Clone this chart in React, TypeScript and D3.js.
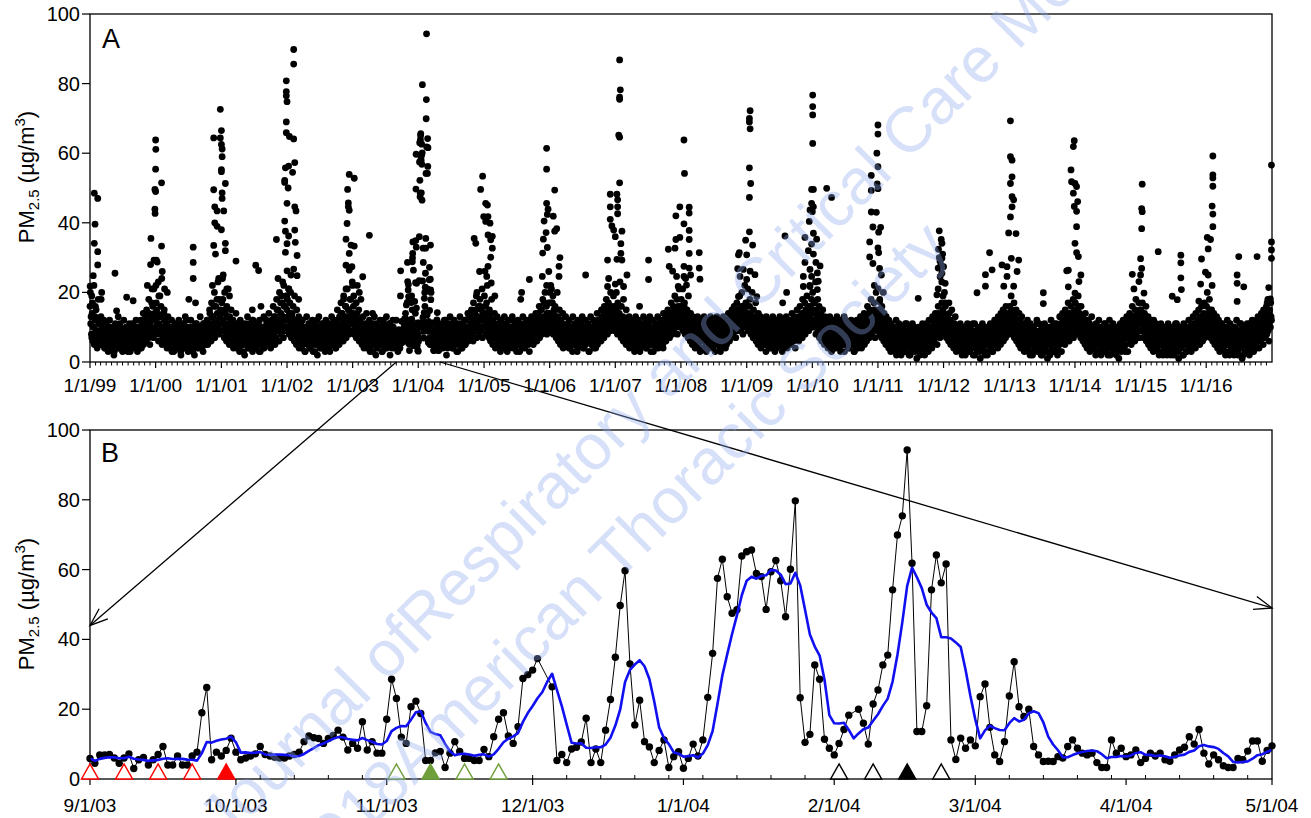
import React from "react";
import * as d3 from "d3";

// ================= DATA =================
// Panel B: daily PM2.5 (µg/m3) from 9/1/03 through 5/1/04 (null = missing day)
const dailyStartISO = "2003-09-01";
const dailyPM: (number | null)[] = [
  5.9, 4.5, 6.9, 6.9, 7, 6, 4.5, 6, 7.2, 3,
  5.5, 6.2, 4, 5.5, 7, 9.3, 4, 4, 6.6, 4,
  4, 6.6, 7.7, 19, 26.2, 5.5, 7.7, 6.6, 8.2, 11.7,
  7.7, 5.5, 6, 6.6, 7.2, 9.3, 7, 6.6, 6.2, 6,
  6, 6.6, 7, 7.7, 10.7, 12.3, 11.8, 11.6, 10.2, 11.6,
  12.5, 14, 12, 8.3, 10.2, 8.8, 16.4, 8.3, 10.7, 7.4,
  7.4, 17.1, 28.6, 23.1, 12, 10.2, 20.7, 22.3, 18.8, 5.3,
  5.3, 7.5, 7.9, 3.3, 7.4, 10.7, 7.9, 5.9, 5.9, 5.3,
  5.3, 8.5, 6.4, 12.1, 17.1, 19, 12.3, 10.2, 15, 28.8,
  29.9, 31.2, 34.5, null, null, 26.4, 5.3, 7, 4.7, 8.6,
  9.1, 10.6, 17.4, 4.7, 8.6, 4.7, 14, 22.8, 34.9, 49.7,
  59.7, 33, 15.5, 22.6, 10.7, 9.2, 4.7, 8.2, 11.2, 3.3,
  6.4, 7.8, 3.1, 5.9, 10, 6.6, 11.2, 23.4, 36, 57.5,
  63, 52.2, 47.5, 48.5, 63.9, 65.1, 65.6, 58.9, 58, 48.6,
  59.4, 62.6, 56.8, 46.5, 60.1, 79.7, 23.3, 10.5, 12.8, 32.7,
  28.6, 11.4, 8.8, 6.9, 10.2, 14.2, 18.3, null, 20, 16,
  10, 21.5, 25.5, 32.7, 35.5, 54.2, 69.9, 75.4, 94.3, 61.8,
  13.6, 13.6, 21, 54.2, 64.2, 56.2, 61.6, 11.2, 5.6, 11.7,
  8.8, 11.2, 9.5, 23.6, 27.2, 14.8, 6.9, 5, 10.7, 23.8,
  33.6, 20.7, 17.9, 20, 9.3, 6.9, 5, 5.1, 5, 6.4,
  6, 9.3, 11.2, 8.8, 7.4, 6.9, 7.4, 4.7, 3.3, 3.3,
  11.2, 7.4, 8.8, 6.4, 6.9, 8.3, 4.7, 5.9, 7.4, 6.6,
  7.4, 5.5, 5.1, 6.9, 8.3, 9.1, 12.1, 10, 14.2, 7.4,
  4.3, 6.9, 5.5, 3.8, 3.3, 3.3, 5.9, 5.5, 8, 10.9,
  10.9, 5.1, 8.2, 9.5,
];

// Event markers on panel B (days after 9/1/03)
const redOpenDays = [0, 7, 14, 21];
const redFilledDays = [28];
const greenOpenDays = [63, 77, 84];
const greenFilledDays = [70];
const blackOpenDays = [154, 161, 175];
const blackFilledDays = [168];

// Panel A: background daily levels, two interleaved sample sets per year (spread evenly through the year)
const base1999 = "16 11 8 14 6 10 5 13 7 9 4 12 8 6 11 9 5 8 7 10 6 4 9 7 5 8 10 6 4 7 9 5 8 6 3 10 7 5 9 6 4 8 11 5 7 6 9 4 8 5 7 10 6 3 8 9 5 7 4 6 11 8 5 9 6 4 7 10 5 8 6 12 4 9 7 5 10 8 13 6 9 11 7 14 5 10 8 12 16 7 9 13";
const base2000 = "12 17 9 14 6 11 19 8 13 5 10 7 15 9 6 11 4 8 10 5 7 9 6 3 8 10 5 7 4 9 6 8 11 5 7 3 9 6 10 4 8 5 7 12 6 9 4 8 5 10 7 6 3 9 5 8 11 6 4 7 9 5 10 6 8 4 7 11 5 9 6 8 12 5 10 7 14 9 6 13 8 11 16 7 12 9 18 10 14 8 11 15";
const base2001 = "14 9 18 11 7 15 10 6 13 8 11 5 9 7 12 6 10 4 8 7 5 9 11 6 8 4 7 10 5 9 6 3 8 7 11 5 9 6 4 10 7 8 5 12 6 9 4 7 10 5 8 6 11 3 7 9 5 8 6 10 4 7 9 12 5 8 6 10 7 4 9 11 6 8 13 5 10 7 15 9 12 6 11 17 8 13 10 7 16 12 9 19";
const base2002 = "15 10 13 8 17 11 7 14 9 12 6 10 8 5 11 9 7 4 10 6 8 12 5 7 9 3 8 6 10 5 7 11 4 9 6 8 5 10 7 3 9 6 12 5 8 7 4 10 6 9 5 11 7 8 4 6 10 5 9 7 3 8 11 6 9 5 7 10 4 8 12 6 9 5 11 7 14 8 10 6 13 9 16 7 11 10 15 8 12 18 9 13";
const base2003 = "11 16 8 13 10 7 14 9 12 6 10 8 11 5 9 7 4 10 6 8 5 11 7 9 4 6 10 8 3 7 5 9 6 11 4 8 7 10 5 6 9 3 8 12 5 7 10 6 4 9 8 5 11 6 7 4 9 10 5 8 6 12 7 9 5 10 8 6 11 7 9 13 6 10 8 12 7 14 9 11 6 15 10 8 13 9 11 7 16 10 12 8";
const base2004 = "12 9 15 11 8 14 10 7 13 9 11 6 10 8 5 9 7 11 4 8 6 10 5 9 7 3 8 6 11 5 7 9 4 10 6 8 5 7 12 6 9 4 8 10 5 7 6 11 4 9 5 8 7 10 3 6 9 5 11 7 8 4 10 6 9 12 5 8 7 10 6 13 9 7 11 8 14 6 10 12 9 15 7 11 13 8 10 16 9 12 7 14";
const base2005 = "13 10 16 8 12 9 14 7 11 6 10 8 5 9 11 7 4 8 10 6 9 5 7 3 10 8 6 4 9 7 11 5 8 6 10 4 7 9 5 12 6 8 10 4 7 9 5 6 11 8 3 7 10 6 9 5 8 4 11 7 6 10 5 9 8 12 6 7 10 5 9 13 8 11 6 10 14 9 7 12 15 8 11 10 17 9 13 11 8 14 12 10";
const base2006 = "14 11 9 17 12 8 15 10 13 7 11 9 6 10 8 5 12 7 9 4 8 10 6 7 9 5 11 4 8 6 10 7 3 9 5 8 11 6 7 4 10 9 5 8 6 12 7 4 9 10 5 8 6 7 11 3 9 6 8 5 10 7 4 9 11 6 8 5 12 7 10 9 6 13 8 11 7 14 10 9 12 8 15 11 13 9 16 10 12 14 11 9";
const base2007 = "12 15 10 8 13 11 16 9 7 12 10 6 9 8 11 5 7 10 6 9 4 8 7 11 5 6 9 3 10 8 5 7 12 6 9 4 8 10 5 7 6 11 9 4 8 5 10 7 6 12 3 9 8 5 10 7 6 4 11 8 9 5 7 10 6 8 12 4 9 7 11 6 10 8 13 9 7 12 10 14 8 11 9 15 12 10 13 8 16 11 14 10";
const base2008 = "13 10 15 9 12 17 8 11 14 10 7 12 9 6 10 8 5 11 7 9 4 8 6 10 5 7 9 3 8 11 6 7 10 4 9 5 8 6 12 7 4 9 10 5 8 6 11 7 3 9 8 5 10 6 7 4 11 9 5 8 6 10 7 12 5 9 8 11 6 10 7 13 9 8 12 10 14 7 11 9 15 12 10 13 9 16 11 8 14 12 10 17";
const base2009 = "11 14 9 12 16 10 8 13 11 7 10 9 12 6 8 10 5 9 7 11 4 8 6 9 5 10 7 3 8 6 11 5 9 7 4 10 8 6 5 12 7 9 4 8 10 6 5 7 11 9 3 8 6 10 5 7 9 4 12 8 6 10 5 9 7 11 6 8 4 10 9 7 12 6 11 8 13 10 7 14 9 12 8 15 11 10 16 9 13 12 10 18";
const base2010 = "15 12 10 17 11 8 14 13 9 11 7 12 10 6 9 8 11 5 7 10 6 9 4 8 7 5 10 3 6 9 8 4 11 7 5 9 6 10 4 8 7 12 5 6 9 3 8 10 7 5 11 6 4 9 8 7 5 10 6 3 9 8 4 7 11 5 10 6 8 4 9 12 7 5 10 8 6 13 9 11 7 14 10 8 12 9 15 11 7 13 10 9";
const base2011 = "12 9 14 8 11 7 13 10 6 9 12 5 8 7 10 4 6 9 3 8 5 7 10 4 6 8 2 9 5 7 3 10 6 4 8 5 9 7 3 6 11 4 8 5 7 2 9 6 4 8 10 5 3 7 6 9 4 8 5 2 7 10 4 6 9 3 8 5 11 7 4 9 6 10 5 8 12 7 9 6 13 8 10 5 11 14 9 7 12 8 10 15";
const base2012 = "11 8 13 9 7 12 10 6 14 8 5 10 7 9 4 11 6 8 3 7 9 5 6 10 4 8 2 7 5 9 3 6 10 4 8 5 7 3 9 6 4 11 5 8 2 7 6 9 4 5 8 3 10 6 7 4 9 5 2 8 6 7 3 10 5 8 4 9 6 3 7 11 5 8 10 6 4 9 12 7 5 10 8 13 6 11 9 7 14 10 8 12";
const base2013 = "13 10 8 15 11 9 12 7 14 10 6 11 8 5 9 12 4 7 10 6 8 3 9 5 7 11 4 6 8 2 10 5 7 3 9 6 4 8 5 11 7 3 6 9 4 8 2 5 10 7 4 6 9 3 8 5 7 2 10 6 4 9 5 8 3 7 11 6 4 9 5 10 8 3 7 12 6 9 5 11 8 7 13 10 6 9 12 8 14 11 7 10";
const base2014 = "14 11 9 13 8 16 10 12 7 11 9 6 10 8 5 12 7 4 9 6 11 3 8 5 7 10 4 6 9 2 8 5 7 3 10 6 4 8 5 9 3 7 11 4 6 8 2 9 5 7 4 10 6 3 8 5 9 7 2 6 10 4 8 5 7 3 9 6 11 4 8 5 10 7 3 9 12 6 8 5 11 7 13 9 6 10 8 12 14 9 7 11";
const base2015 = "12 9 14 10 7 11 8 13 6 10 9 5 8 11 4 7 9 6 3 8 10 5 7 4 9 6 2 8 5 10 3 7 6 4 9 5 8 2 7 10 4 6 3 9 5 8 6 2 7 11 4 5 9 3 8 6 4 7 10 5 2 8 6 9 3 7 5 10 4 8 6 3 9 7 11 5 8 4 10 6 12 7 9 5 11 8 13 6 10 9 7 12";
const base2016 = "13 10 8 12 9 15 7 11 10 6 9 12 5 8 7 10 4 6 9 3 8 5 11 7 4 9 6 2 8 5 7 10 3 6 9 4 8 5 7 2 10 6 4 8 3 9 5 7 11 4 6 8 2 9 5 10 3 7 6 4 8 11 5 9 3 7 6 10 4 8 5 12 7 9 4 11 6 8 13 10 5 9 12 7 14 8 11 9 6 15 10 13";

const alt1999 = "20 13 7 17 10 22 8 12 15 6 9 18 11 5 8 13 7 10 6 12 4 9 11 5 8 3 7 12 6 9 4 10 7 2 8 11 5 6 9 13 4 7 10 5 8 3 6 12 9 4 7 10 5 8 6 11 3 9 7 4 10 6 8 5 12 7 3 9 6 10 4 8 11 7 14 9 6 12 8 15 10 7 18 11 13 9 17 12 8 21 14 10";
const alt2000 = "22 15 11 8 19 13 9 16 24 10 7 14 12 6 9 11 5 13 8 4 10 7 12 6 9 3 8 11 5 7 10 4 12 6 8 2 9 5 11 7 4 13 8 6 10 3 7 9 5 12 4 8 10 6 2 9 7 11 5 8 4 10 13 6 7 9 3 11 8 5 10 6 12 9 7 15 11 8 17 10 13 9 20 12 16 10 14 23 11 18 13 9";
const alt2001 = "17 24 12 9 20 14 8 16 11 21 7 13 10 15 6 9 12 5 11 8 14 4 10 7 9 3 12 6 8 11 5 9 2 7 10 6 13 4 8 11 5 7 9 3 12 6 10 8 4 11 7 5 9 12 3 8 6 10 4 13 7 9 5 11 8 6 14 10 5 9 12 7 16 8 11 13 9 18 10 15 12 20 9 14 11 17 13 22 10 16 12 19";
const alt2002 = "18 12 21 14 10 25 13 9 16 11 19 8 12 15 7 10 13 6 9 11 4 12 8 6 10 3 9 13 7 5 11 8 4 10 6 12 3 9 7 11 5 8 2 10 13 6 9 4 7 11 5 8 10 3 12 6 9 7 4 11 8 5 13 10 6 9 12 7 4 11 15 8 10 13 9 17 11 14 8 19 12 10 16 13 21 11 15 9 18 14 12 23";
const alt2003 = "14 19 11 9 17 13 22 10 15 8 12 18 9 6 13 10 5 11 8 14 4 9 7 12 3 10 6 8 11 5 13 7 2 9 4 10 8 6 12 5 9 3 11 7 10 4 8 13 6 9 5 11 2 7 10 6 12 8 4 9 7 11 5 14 8 10 6 13 9 12 7 16 10 11 14 8 17 12 10 15 19 11 13 9 20 12 16 10 14 18 11 15";
const alt2004 = "16 12 20 10 14 18 11 9 15 13 7 12 10 16 6 11 8 13 5 10 7 12 4 9 11 6 8 3 10 13 7 5 9 11 4 8 12 6 10 2 9 7 11 5 13 8 6 10 4 9 12 7 5 11 8 3 10 6 13 9 7 4 11 8 10 5 12 9 6 14 10 8 13 11 15 9 12 17 10 14 11 19 13 9 16 12 18 10 15 21 12 14";
const alt2005 = "19 14 11 17 22 12 9 15 13 10 18 8 12 11 14 7 10 9 13 6 11 8 4 12 9 7 10 5 13 8 6 11 3 9 12 7 5 10 8 13 4 9 6 11 7 3 10 12 5 8 9 6 11 4 13 7 10 8 5 12 9 6 11 3 10 8 13 7 9 12 6 11 14 8 10 13 9 16 12 11 15 10 18 13 12 20 11 16 14 10 17 13";
const alt2006 = "17 22 13 10 19 14 11 16 12 9 20 13 10 15 8 12 7 11 14 6 10 9 13 5 8 11 7 12 4 10 9 6 13 8 5 11 7 10 3 12 9 6 8 11 5 13 7 10 4 9 12 8 6 11 7 3 10 13 5 9 8 12 6 11 4 10 14 7 9 12 8 11 15 10 13 9 16 12 11 18 14 10 17 13 15 20 12 14 11 19 16 13";
const alt2007 = "15 20 12 17 10 14 23 11 16 9 13 18 8 12 10 15 7 11 9 13 6 10 12 5 9 8 11 4 13 7 10 6 12 9 3 11 8 10 5 13 7 9 12 4 10 6 11 8 13 5 9 7 12 3 10 8 11 6 9 13 4 10 7 12 8 11 5 14 9 10 13 7 12 15 9 11 14 10 17 12 13 16 11 19 14 12 18 13 15 21 12 16";
const alt2008 = "18 14 21 12 16 11 24 13 15 10 19 12 9 14 11 8 13 10 7 12 9 6 11 13 5 10 8 12 4 9 11 7 13 6 10 3 12 8 9 11 5 13 7 10 4 12 9 6 11 8 13 5 10 7 12 3 9 11 6 13 8 10 4 12 9 7 14 11 10 13 8 15 12 11 16 10 14 13 17 11 15 12 19 14 13 20 12 16 15 22 13 11";
const alt2009 = "16 21 13 11 18 14 12 20 10 15 13 9 17 11 12 8 14 10 7 13 9 11 6 12 8 10 5 13 9 7 11 4 12 10 8 6 13 9 11 3 10 12 7 9 5 11 13 8 10 6 12 4 9 11 7 13 8 10 5 12 9 11 6 14 10 8 13 12 7 11 15 9 13 10 16 12 11 14 18 13 10 17 12 15 19 11 14 13 22 16 12 15";
const alt2010 = "20 14 17 12 23 15 11 18 13 16 10 14 12 9 15 11 8 13 10 7 12 9 11 6 13 8 10 5 12 9 7 11 4 10 13 8 6 12 9 3 11 7 10 5 13 8 12 6 9 11 4 10 8 7 12 5 9 11 3 10 8 6 12 9 4 11 7 13 10 8 12 6 14 11 9 13 10 16 12 11 15 13 18 10 14 12 17 11 15 20 13 12";
const alt2011 = "15 11 18 13 9 16 12 10 14 8 11 13 7 10 6 12 9 5 11 8 4 10 7 3 9 12 6 8 4 11 5 9 2 7 10 6 3 8 11 5 9 4 7 2 10 6 8 3 11 5 7 9 4 6 1 8 10 5 3 9 7 4 11 6 8 2 10 5 7 9 3 12 8 6 10 4 13 9 11 7 14 10 8 12 16 9 11 13 10 17 12 14";
const alt2012 = "14 10 16 12 9 13 11 17 8 12 10 15 7 9 11 6 13 8 5 10 7 4 9 11 6 3 8 10 5 7 2 9 6 11 4 8 3 10 7 5 9 2 6 11 4 8 7 3 10 5 9 1 7 6 11 4 8 3 9 5 10 2 7 8 6 11 4 9 3 10 7 12 5 8 11 6 13 9 10 7 14 11 8 15 12 10 13 16 9 12 14 11";
const alt2013 = "16 12 19 10 14 11 17 13 9 15 12 8 11 14 7 10 6 13 9 5 11 8 4 10 7 12 3 9 6 11 5 8 2 10 7 4 9 6 12 3 8 11 5 7 2 10 9 4 6 11 3 8 7 1 10 5 9 6 12 4 8 3 11 7 9 5 10 2 8 6 13 9 11 7 14 10 12 8 15 11 13 9 17 12 14 10 16 13 11 18 12 15";
const alt2014 = "17 13 10 15 19 12 14 11 16 9 13 12 8 11 14 7 10 9 12 6 11 5 9 13 7 4 10 8 6 11 3 9 7 12 5 8 2 10 6 9 4 11 7 3 8 10 5 6 12 2 9 7 4 11 8 5 10 3 7 9 6 1 8 11 4 10 6 12 5 9 3 8 13 7 11 10 14 8 12 9 16 11 13 10 15 18 12 14 11 17 13 15";
const alt2015 = "15 11 17 13 9 14 12 16 10 8 13 11 7 12 9 6 10 8 12 5 9 11 4 7 10 3 8 6 11 5 9 2 7 10 4 8 6 3 11 7 9 5 2 8 10 6 4 9 7 3 11 5 8 1 10 6 9 4 7 2 11 8 5 10 3 9 6 12 4 8 7 11 5 13 9 10 6 14 11 8 12 15 10 13 9 16 12 11 14 17 10 13";
const alt2016 = "16 12 14 11 18 13 10 15 9 12 14 8 11 10 13 7 9 12 6 10 5 11 8 4 9 7 3 10 6 12 5 8 2 11 7 9 4 6 10 3 8 5 12 7 2 9 6 4 11 8 1 10 5 7 3 9 6 11 4 8 2 10 7 5 12 9 3 8 6 11 4 10 13 7 9 12 8 14 10 11 15 9 13 12 16 10 18 11 14 13 17 12";

// Panel A: high-pollution days, [days after Jan 1 of the year, µg/m3]
const peaks1999 = [[24,48.5],[43,47],[28,39.6],[24,34.1],[43,31.7],[43,27.9],[18,24.8],[1,21.8],[65,20],[62,18],[10,19],[30,16],[139,25.5],[148,14.7],[204,18.6],[240,17.6]];
const peaks2000 = [[0,63.8],[1,61.1],[0,55.4],[-4,49.6],[0,49],[33,51.5],[-4,43.9],[-3,42.7],[-26,35.5],[33,33.3],[-9,29.3],[4,29.3],[-28,28],[9,28.7],[37,26],[-46,22],[-20,21],[15,23],[50,21],[65,20],[209,33],[209,28.6],[209,24],[185,18],[222,17]];
const peaks2001 = [[-6,72.6],[0,66.5],[-6,64.4],[-43,64.4],[0,62.5],[4,61.2],[4,59],[0,55.3],[0,54.7],[22,51.3],[-43,49.5],[4,48.6],[4,47],[-37,44.6],[-24,43.4],[13,43.4],[-37,40],[-24,39],[0,38],[-43,33.5],[-33,31],[22,34.1],[22,32],[81,29],[191,27.8],[207,26.3],[-50,22],[-15,24],[10,25],[30,21],[45,19],[172,15],[220,16]];
const peaks2002 = [[37,89.8],[37,85.6],[-4,80.8],[-4,77.7],[-4,76.5],[0,74.8],[-4,69],[-4,65.9],[13,64.8],[37,64.1],[43,57.3],[-9,55.8],[9,56.3],[31,54.5],[-13,52.2],[-13,51.6],[6,50],[0,45.6],[43,44.6],[50,43.4],[-13,40.5],[-9,37.6],[43,37.9],[9,36.2],[-59,35.2],[0,34],[46,34.4],[-9,31.5],[56,30.6],[0,26.2],[37,26.7],[56,24.8],[-50,24],[-24,23],[9,21],[-30,19],[20,20],[65,18]];
const peaks2003 = [[-19,53.9],[9,52.8],[-28,49.6],[-24,45.7],[-24,44.6],[-19,43.6],[-31,39.8],[-37,35.3],[-9,33.6],[-19,31.2],[9,33.3],[-37,27.8],[-4,27.4],[-19,26.4],[56,24.5],[93,36.4],[111,14],[-37,21],[0,22],[37,20],[-50,18],[20,17]];
const peaks2005 = [[-8,53.4],[-19,49.6],[9,45.6],[19,45.1],[-2,41.8],[22,41.8],[9,40.4],[33,39.9],[22,36.5],[46,36.1],[37,35.1],[46,32.7],[37,30.1],[22,27.5],[-55,35.5],[-46,34.1],[-25,26],[5,26.1],[15,24.6],[40,22.7],[-40,20],[60,19]];
const peaks2006 = [[-17,61.4],[-17,55.4],[28,49.4],[-17,45.6],[-9,43.9],[-31,40.5],[20,41.9],[-13,42.4],[39,38.3],[28,37.6],[-20,37.2],[-35,35.3],[-13,32.9],[-39,31.3],[57,30],[-41,24.6],[52,24.6],[52,27.5],[-17,22],[15,17],[-113,23.7],[-156,20],[-161,18],[200,25],[0,20],[-5,26],[10,21]];
const peaks2007 = [[24,86.8],[28,78.2],[24,76.1],[24,75.5],[19,65.2],[24,64.6],[24,51.5],[-28,48.2],[9,48.2],[13,46.6],[13,44.6],[-28,44.6],[13,42.6],[-28,41],[-19,39.1],[-9,37.9],[37,37.6],[0,36],[31,34],[31,31.2],[-43,29.3],[9,29.5],[37,29.3],[65,25],[-37,24],[0,22.4],[-43,21.7],[46,21.7],[185,29.3],[185,23.7],[135,16]];
const peaks2008 = [[17,63.8],[20,54.2],[-6,44.6],[46,44.5],[46,42.8],[-28,42],[17,39.7],[46,37.8],[-28,35.2],[-6,35.8],[46,35.2],[-70,32.4],[-33,32.7],[102,31.4],[46,31.2],[-65,27.5],[-46,26.1],[17,27.5],[46,27],[102,27],[-24,24.6],[17,24.6],[54,25],[106,23.8],[-15,21.7],[31,22.1]];
const peaks2009 = [[19,72.2],[15,70],[15,69],[19,67],[15,55.8],[22,51.3],[15,47.3],[15,37.4],[-6,35],[33,33.6],[-41,31.4],[0,30.8],[-46,30.8],[-50,26.8],[-19,26.6],[19,26.1],[46,25.1],[-37,24.6],[0,23.7],[-46,18.8],[56,18.8],[213,36.2]];
const peaks2010 = [[2,76.7],[2,73.4],[2,71],[2,62.8],[6,49.6],[-4,49.6],[80,49.9],[107,47.3],[-4,45.6],[6,44.6],[-13,43.7],[0,43.2],[-17,40.4],[6,37],[-41,35.8],[24,35.3],[-4,33.9],[-22,32],[6,31],[-41,28.6],[20,28.6],[43,27.6],[-13,26.6],[28,25.6],[-50,24.6],[-4,24.6],[33,23.2],[-50,21.7],[-13,21.7],[28,20.8],[-143,20],[-165,17]];
const peaks2011 = [[0,68.1],[0,65.5],[0,56.1],[-4,51.2],[0,49.8],[-9,43],[15,38.7],[4,37.3],[0,32.8],[4,31.4],[9,26.9],[19,25],[0,21.1],[9,17.3],[19,14.9],[-6,60],[-37,53.6],[-37,49.3],[-37,43.1],[-28,38.8],[-46,34.5],[-46,30.2],[-28,28.3],[-20,22],[30,20]];
const peaks2012 = [[-24,37.7],[-13,35.2],[-9,34.1],[-28,32.4],[-9,29.8],[0,27.4],[-9,25.5],[-19,24.5],[9,22.6],[-37,19.3],[-141,18.3],[-30,27],[-20,29],[-5,31],[5,20],[-24,30],[-15,28],[-10,23],[-3,19],[8,17],[-30,21]];
const peaks2013 = [[6,69.3],[6,59],[15,58],[15,53.2],[6,51.3],[15,47.5],[24,46.6],[15,44.6],[6,41.7],[-4,37.1],[37,36.9],[11,29.8],[52,29.3],[43,26],[-110,31.4],[-41,27.9],[-13,27.4],[-13,24.6],[-133,25.1],[-96,26.5],[-180,19.9],[-133,21.8],[-31,21.8],[24,21.8]];
const peaks2014 = [[-4,63.6],[-9,61.9],[-22,55.2],[-19,51.8],[0,51.3],[9,50.4],[-9,48.5],[15,46.1],[-4,44.7],[9,43.3],[9,38.9],[0,34.1],[9,31.4],[19,30.3],[-37,26.4],[-46,26.2],[33,25],[22,23.1],[-37,21.6],[0,19.8],[-176,19.9],[-176,16.8]];
const peaks2015 = [[9,51.1],[6,44.1],[9,43.2],[6,38.3],[0,29.7],[6,26.9],[0,25],[-9,23.1],[-46,25.2],[-37,21],[19,19.8],[98,31.7],[224,30.7],[224,28.5],[224,24.2],[227,20.8],[176,18.9],[204,17.9]];
const peaks2016 = [[37,59.2],[37,53.8],[37,52.9],[37,50.5],[33,44.8],[37,42.5],[37,38.9],[6,35.8],[24,35.2],[11,32.5],[-26,29.6],[-4,25.8],[11,25],[-31,22.4],[33,22],[6,20],[-41,17.5],[181,30.3],[172,25],[172,22.6],[172,17.4],[209,21.6],[283,30.3],[363,56.6],[363,34.5],[363,32.2],[363,29.8],[348,21.4],[357,18.1],[339,17]];

const yearBaselines: [number, string, string][] = [
  [1999, base1999, alt1999], [2000, base2000, alt2000], [2001, base2001, alt2001], [2002, base2002, alt2002],
  [2003, base2003, alt2003], [2004, base2004, alt2004], [2005, base2005, alt2005], [2006, base2006, alt2006],
  [2007, base2007, alt2007], [2008, base2008, alt2008], [2009, base2009, alt2009], [2010, base2010, alt2010],
  [2011, base2011, alt2011], [2012, base2012, alt2012], [2013, base2013, alt2013], [2014, base2014, alt2014],
  [2015, base2015, alt2015], [2016, base2016, alt2016],
];
const yearPeaks: [number, number[][]][] = [
  [1999, peaks1999], [2000, peaks2000], [2001, peaks2001], [2002, peaks2002], [2003, peaks2003],
  [2005, peaks2005], [2006, peaks2006], [2007, peaks2007], [2008, peaks2008], [2009, peaks2009],
  [2010, peaks2010], [2011, peaks2011], [2012, peaks2012], [2013, peaks2013], [2014, peaks2014],
  [2015, peaks2015], [2016, peaks2016],
];

const yTicks = [0, 20, 40, 60, 80, 100];
const watermarkLine1a = "American Journal of ";
const watermarkLine1b = "Respiratory and Critical Care Medicine";
const watermarkLine2a = "Copyright © 2018 ";
const watermarkLine2b = "American Thoracic Society";

// ================= LAYOUT =================
const W = 1311, H = 818;
const L = 90, R = 1272;
const A_TOP = 14, A_BOT = 362;
const B_TOP = 430, B_BOT = 779;
const FONT = "'Liberation Sans', Arial, Helvetica, sans-serif";
const DAY = 86400000;
const utc = (y: number, m: number, d: number) => new Date(Date.UTC(y, m, d));

function Arrow({ x1, y1, x2, y2 }: { x1: number; y1: number; x2: number; y2: number }) {
  const ang = Math.atan2(y2 - y1, x2 - x1);
  const len = 19, spread = 0.36;
  const w1 = [x2 - len * Math.cos(ang - spread), y2 - len * Math.sin(ang - spread)];
  const w2 = [x2 - len * Math.cos(ang + spread), y2 - len * Math.sin(ang + spread)];
  return (
    <g stroke="#000" strokeWidth={1.3} fill="none">
      <line x1={x1} y1={y1} x2={x2} y2={y2} />
      <polyline points={`${w1[0]},${w1[1]} ${x2},${y2} ${w2[0]},${w2[1]}`} />
    </g>
  );
}

function YTitle({ x, y }: { x: number; y: number }) {
  return (
    <text transform={`translate(${x},${y}) rotate(-90)`} textAnchor="middle" fontFamily={FONT} fontSize={22} fill="#000">
      PM<tspan fontSize={15} dy={5}>2.5</tspan>
      <tspan dy={-5}> (µg/m</tspan>
      <tspan fontSize={15} dy={-9}>3</tspan>
      <tspan dy={9}>)</tspan>
    </text>
  );
}

export default function App() {
  const bStart = new Date(dailyStartISO + "T00:00:00Z");
  const bEnd = utc(2004, 4, 1);

  const xA = d3.scaleUtc().domain([utc(1999, 0, 1), utc(2017, 0, 1)]).range([L, R]);
  const yA = d3.scaleLinear().domain([0, 100]).range([A_BOT, A_TOP]);
  const xB = d3.scaleUtc().domain([bStart, bEnd]).range([L, R]);
  const yB = d3.scaleLinear().domain([0, 100]).range([B_BOT, B_TOP]);

  const daily = dailyPM.map((v, i) => ({ date: d3.utcDay.offset(bStart, i), v }));
  const dailyValid = daily.filter((d) => d.v != null) as { date: Date; v: number }[];
  const movingAvg = daily.map((d, i) => {
    const win = dailyPM.slice(Math.max(0, i - 6), i + 1).filter((v) => v != null) as number[];
    return { date: d.date, v: d3.mean(win) as number };
  });

  const aPoints: { date: Date; v: number }[] = [];
  const inB = (date: Date) => date >= bStart && date < bEnd;
  yearBaselines.forEach(([yr, s1, s2]) => {
    const start = utc(yr, 0, 1).getTime();
    [s1, s2].forEach((s, k) => {
      const vals = s.trim().split(/\s+/).map(Number);
      const n = vals.length;
      vals.forEach((v, i) => {
        const date = new Date(start + Math.round(((i + k * 0.5) * 365) / n) * DAY);
        if (inB(date)) return;
        aPoints.push({ date, v });
      });
    });
  });
  yearPeaks.forEach(([yr, arr]) => {
    arr.forEach(([off, v]) => {
      const date = d3.utcDay.offset(utc(yr, 0, 1), off);
      if (inB(date)) return;
      aPoints.push({ date, v });
    });
  });
  dailyValid.forEach((d) => aPoints.push(d));

  const fmt = d3.utcFormat("%-m/%-d/%y");
  const yearTicks = d3.utcYear.range(utc(1999, 0, 1), utc(2017, 0, 1));
  const monthTicksA = d3.utcMonth.range(utc(1999, 0, 1), utc(2017, 0, 1)).filter((d) => d.getUTCMonth() !== 0);
  const monthTicksB = d3.utcMonth.range(bStart, d3.utcDay.offset(bEnd, 1));
  const weekTicksB = d3.utcDay.range(d3.utcDay.offset(bStart, 7), bEnd, 7);

  const lineB = d3.line<{ date: Date; v: number }>().x((d) => xB(d.date)).y((d) => yB(d.v));

  const tri = (cx: number, base: number) => {
    const w = 8.5, h = 15;
    return `M${cx - w},${base} L${cx},${base - h} L${cx + w},${base} Z`;
  };
  const markerDate = (d: number) => d3.utcDay.offset(bStart, d);

  const angle = -45;

  return (
    <svg width={W} height={H} style={{ position: "absolute", left: 0, top: 0, background: "#fff" }} fontFamily={FONT}>
      <rect x={0} y={0} width={W} height={H} fill="#fff" />

      {/* ---------- Panel A ---------- */}
      <g>
        {aPoints.map((d, i) => (
          <circle key={i} cx={xA(d.date)} cy={yA(d.v)} r={3.4} fill="#000" />
        ))}
        <rect x={L} y={A_TOP} width={R - L} height={A_BOT - A_TOP} fill="none" stroke="#000" strokeWidth={1.3} />
        {yTicks.map((t) => (
          <g key={t}>
            <line x1={L - 8} x2={L} y1={yA(t)} y2={yA(t)} stroke="#000" strokeWidth={1.2} />
            <text x={L - 10} y={yA(t)} dy="0.35em" textAnchor="end" fontSize={20}>{t}</text>
          </g>
        ))}
        {monthTicksA.map((d, i) => (
          <line key={i} x1={xA(d)} x2={xA(d)} y1={A_BOT} y2={A_BOT + 3.5} stroke="#000" strokeWidth={1} />
        ))}
        {yearTicks.map((d, i) => (
          <g key={i}>
            <line x1={xA(d)} x2={xA(d)} y1={A_BOT} y2={A_BOT + 6} stroke="#000" strokeWidth={1.2} />
            <text x={xA(d)} y={392} textAnchor="middle" fontSize={19}>{fmt(d)}</text>
          </g>
        ))}
        <text x={102} y={48} fontSize={27}>A</text>
        <YTitle x={34} y={177} />
      </g>

      {/* ---------- Panel B ---------- */}
      <g>
        <path d={lineB(dailyValid) || ""} fill="none" stroke="#000" strokeWidth={1} />
        {dailyValid.map((d, i) => (
          <circle key={i} cx={xB(d.date)} cy={yB(d.v)} r={3.7} fill="#000" />
        ))}
        <path d={lineB(movingAvg) || ""} fill="none" stroke="#1010f0" strokeWidth={2.6} strokeLinejoin="round" />
        <rect x={L} y={B_TOP} width={R - L} height={B_BOT - B_TOP} fill="none" stroke="#000" strokeWidth={1.3} />
        {yTicks.map((t) => (
          <g key={t}>
            <line x1={L - 8} x2={L} y1={yB(t)} y2={yB(t)} stroke="#000" strokeWidth={1.2} />
            <text x={L - 10} y={yB(t)} dy="0.35em" textAnchor="end" fontSize={20}>{t}</text>
          </g>
        ))}
        {weekTicksB.map((d, i) => (
          <line key={i} x1={xB(d)} x2={xB(d)} y1={B_BOT} y2={B_BOT - 4} stroke="#000" strokeWidth={1} />
        ))}
        {monthTicksB.map((d, i) => (
          <g key={i}>
            <line x1={xB(d)} x2={xB(d)} y1={B_BOT} y2={B_BOT + 6} stroke="#000" strokeWidth={1.2} />
            <text x={xB(d)} y={812} textAnchor="middle" fontSize={19}>{fmt(d)}</text>
          </g>
        ))}
        {redOpenDays.map((d) => (
          <path key={"ro" + d} d={tri(xB(markerDate(d)), B_BOT)} fill="#fff" stroke="#ff0000" strokeWidth={1.5} />
        ))}
        {redFilledDays.map((d) => (
          <path key={"rf" + d} d={tri(xB(markerDate(d)), B_BOT)} fill="#ff0000" stroke="#ff0000" strokeWidth={1.5} />
        ))}
        {greenOpenDays.map((d) => (
          <path key={"go" + d} d={tri(xB(markerDate(d)), B_BOT)} fill="#fff" stroke="#6f9f3a" strokeWidth={1.5} />
        ))}
        {greenFilledDays.map((d) => (
          <path key={"gf" + d} d={tri(xB(markerDate(d)), B_BOT)} fill="#6f9f3a" stroke="#6f9f3a" strokeWidth={1.5} />
        ))}
        {blackOpenDays.map((d) => (
          <path key={"bo" + d} d={tri(xB(markerDate(d)), B_BOT)} fill="#fff" stroke="#000" strokeWidth={1.5} />
        ))}
        {blackFilledDays.map((d) => (
          <path key={"bf" + d} d={tri(xB(markerDate(d)), B_BOT)} fill="#000" stroke="#000" strokeWidth={1.5} />
        ))}
        <text x={101} y={462} fontSize={27}>B</text>
        <YTitle x={34} y={604} />
      </g>

      {/* ---------- zoom arrows ---------- */}
      <Arrow x1={xA(bStart)} y1={A_BOT} x2={xB(bStart)} y2={yB(44)} />
      <Arrow x1={xA(bEnd)} y1={A_BOT} x2={xB(bEnd)} y2={yB(49)} />

      {/* ---------- journal watermark ---------- */}
      <g fill="#8fa7ee" opacity={0.36} fontSize={64} fontFamily={FONT}>
        <text transform={`translate(424,645) rotate(${angle})`} textAnchor="end">{watermarkLine1a}</text>
        <text transform={`translate(424,645) rotate(${angle})`} textAnchor="start">{watermarkLine1b}</text>
        <text transform={`translate(414,786) rotate(${angle})`} textAnchor="end">{watermarkLine2a}</text>
        <text transform={`translate(414,786) rotate(${angle})`} textAnchor="start">{watermarkLine2b}</text>
      </g>
    </svg>
  );
}
